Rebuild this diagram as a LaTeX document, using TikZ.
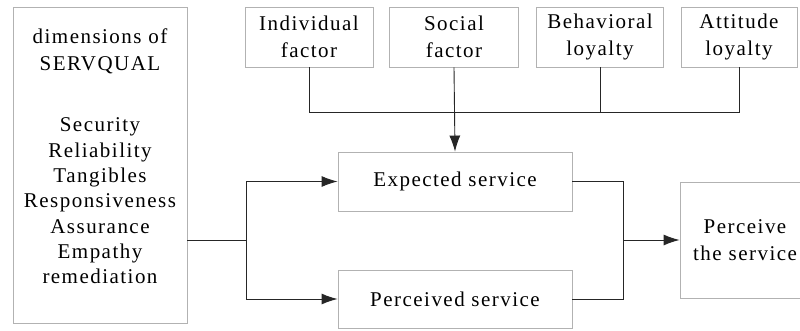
\documentclass[tikz,border=0pt]{standalone}
\usepackage{fontspec}
\setmainfont[LetterSpace=7]{Liberation Serif}
\usetikzlibrary{arrows.meta}
\begin{document}
\begin{tikzpicture}[x=1pt,y=-1pt,
  box/.style={draw=black!30, line width=0.9pt, fill=white, inner sep=0pt, align=center,
    font=\fontsize{21}{27}\selectfont},
  conn/.style={draw=black!85, line width=0.9pt},
  arr/.style={conn, -{Latex[length=16pt,width=11pt]}},
  txt/.style={align=center, inner sep=0pt, font=\fontsize{21}{25.3}\selectfont}
]
\useasboundingbox (0,0) rectangle (800,330);
\fill[white] (0,0) rectangle (800,330);
% left box
\node[box, minimum width=174pt, minimum height=316pt] (L) at (100,165) {};
\node[txt] (Lt1) at (100,51) {dimensions of\\[2pt]SERVQUAL};
\node[txt] (Lt2) at (100,201) {Security\\Reliability\\Tangibles\\Responsiveness\\Assurance\\Empathy\\remediation};
% top boxes
\node[box, minimum width=128pt, minimum height=60pt] (ind) at (309,37) {Individual\\factor};
\node[box, minimum width=129pt, minimum height=60pt] (soc) at (454,37) {Social\\factor};
\node[box, minimum width=127pt, minimum height=60pt] (beh) at (600,37) {Behavioral\\loyalty};
\node[box, minimum width=116pt, minimum height=60pt] (att) at (739,37) {Attitude\\loyalty};
% middle boxes
\node[box, minimum width=234pt, minimum height=59pt] (exp) at (455,181.5) {Expected service};
\node[box, minimum width=234pt, minimum height=58pt] (per) at (455,299) {Perceived service};
\node[box, minimum width=130pt, minimum height=116pt, text width=128pt] (pts) at (745,240) {Perceive\\the service};
% coordinates
\coordinate (bus) at (0,112);
\coordinate (jl) at (246,240);
\coordinate (jr) at (623,240);
% top connectors
\draw[conn] (ind.south) -- (ind.south |- bus) -- (att.south |- bus) -- (att.south);
\draw[conn] (beh.south) -- (beh.south |- bus);
\draw[arr] (soc.south) -- (exp.north);
% left connectors
\draw[conn] (L.east |- jl) -- (jl);
\draw[conn] (jl |- exp.west) -- (jl |- per.west);
\draw[arr] (jl |- exp.west) -- (exp.west);
\draw[arr] (jl |- per.west) -- (per.west);
% right connectors
\draw[conn] (exp.east) -- (jr |- exp.east) -- (jr |- per.east) -- (per.east);
\draw[arr] (jr) -- (pts.west);
\end{tikzpicture}
\end{document}
